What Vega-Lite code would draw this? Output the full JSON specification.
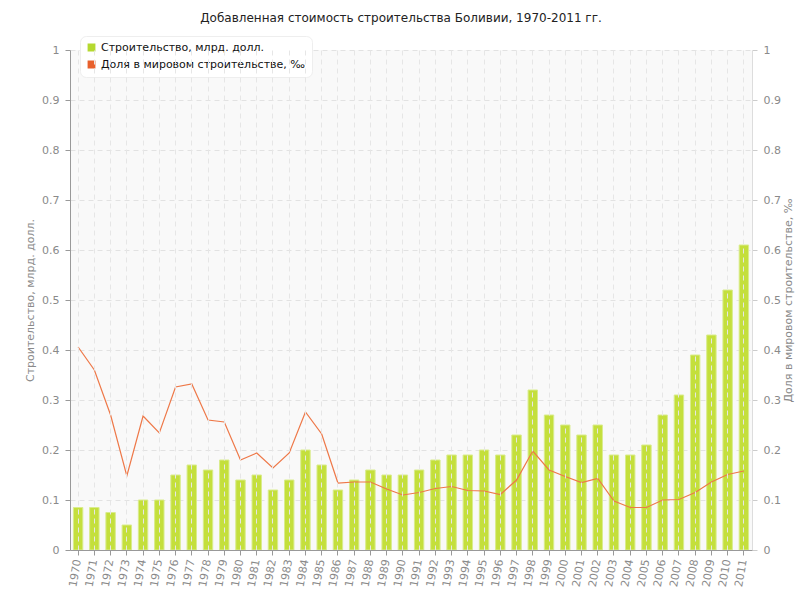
{
  "$schema": "https://vega.github.io/schema/vega-lite/v6.json",
  "width": 682,
  "height": 500,
  "autosize": "none",
  "padding": {"left": 70, "top": 50, "right": 48, "bottom": 50},
  "background": "white",
  "title": {"text": "Добавленная стоимость строительства Боливии, 1970-2011 гг.", "font": "DejaVu Sans", "fontSize": 12, "fontWeight": "normal", "color": "#222", "offset": 11, "dx": -10},
  "config": {
    "view": {"fill": "#f9f9f9", "stroke": null},
    "axis": {"labelFont": "DejaVu Sans", "labelFontSize": 11, "labelColor": "#8a8a8a", "titleFont": "DejaVu Sans", "titleFontSize": 11, "titleFontWeight": "normal", "titleColor": "#8a8a8a", "gridColor": "#e2e2e2", "gridDash": [5, 4], "tickColor": "#999", "domainColor": "#999", "tickSize": 5}
  },
  "data": {"values": [
    {"year": "1970", "construction": 0.085, "share": 0.406},
    {"year": "1971", "construction": 0.085, "share": 0.36},
    {"year": "1972", "construction": 0.075, "share": 0.27},
    {"year": "1973", "construction": 0.05, "share": 0.148},
    {"year": "1974", "construction": 0.1, "share": 0.268},
    {"year": "1975", "construction": 0.1, "share": 0.234},
    {"year": "1976", "construction": 0.15, "share": 0.326},
    {"year": "1977", "construction": 0.17, "share": 0.332},
    {"year": "1978", "construction": 0.16, "share": 0.26},
    {"year": "1979", "construction": 0.18, "share": 0.256},
    {"year": "1980", "construction": 0.14, "share": 0.18},
    {"year": "1981", "construction": 0.15, "share": 0.194},
    {"year": "1982", "construction": 0.12, "share": 0.164},
    {"year": "1983", "construction": 0.14, "share": 0.194},
    {"year": "1984", "construction": 0.2, "share": 0.276},
    {"year": "1985", "construction": 0.17, "share": 0.232},
    {"year": "1986", "construction": 0.12, "share": 0.134},
    {"year": "1987", "construction": 0.14, "share": 0.136},
    {"year": "1988", "construction": 0.16, "share": 0.136},
    {"year": "1989", "construction": 0.15, "share": 0.122},
    {"year": "1990", "construction": 0.15, "share": 0.11},
    {"year": "1991", "construction": 0.16, "share": 0.115},
    {"year": "1992", "construction": 0.18, "share": 0.123},
    {"year": "1993", "construction": 0.19, "share": 0.127},
    {"year": "1994", "construction": 0.19, "share": 0.119},
    {"year": "1995", "construction": 0.2, "share": 0.118},
    {"year": "1996", "construction": 0.19, "share": 0.111},
    {"year": "1997", "construction": 0.23, "share": 0.14},
    {"year": "1998", "construction": 0.32, "share": 0.198},
    {"year": "1999", "construction": 0.27, "share": 0.16},
    {"year": "2000", "construction": 0.25, "share": 0.147},
    {"year": "2001", "construction": 0.23, "share": 0.135},
    {"year": "2002", "construction": 0.25, "share": 0.143},
    {"year": "2003", "construction": 0.19, "share": 0.098},
    {"year": "2004", "construction": 0.19, "share": 0.085},
    {"year": "2005", "construction": 0.21, "share": 0.085},
    {"year": "2006", "construction": 0.27, "share": 0.1},
    {"year": "2007", "construction": 0.31, "share": 0.101},
    {"year": "2008", "construction": 0.39, "share": 0.115},
    {"year": "2009", "construction": 0.43, "share": 0.136},
    {"year": "2010", "construction": 0.52, "share": 0.151},
    {"year": "2011", "construction": 0.61, "share": 0.158}
  ]},
  "encoding": {
    "x": {"field": "year", "type": "ordinal", "scale": {"paddingInner": 0.42, "paddingOuter": 0.21},
      "axis": {"title": null, "labelAngle": -80, "labelAlign": "right", "labelBaseline": "middle", "labelPadding": 4, "grid": true, "tickBand": "center", "zindex": 1, "gridColor": "#e6e6e6"}}
  },
  "layer": [
    {
      "mark": {"type": "bar", "fill": "#c4df3c", "stroke": "#d9ec8c", "strokeWidth": 1},
      "encoding": {
        "y": {"field": "construction", "type": "quantitative", "scale": {"domain": [0, 1]},
          "axis": {"title": "Строительство, млрд. долл.", "values": [0, 0.1, 0.2, 0.3, 0.4, 0.5, 0.6, 0.7, 0.8, 0.9, 1], "format": "~g", "grid": true, "titlePadding": 6, "labelPadding": 6}},
        "color": {"datum": "Строительство, млрд. долл.", "type": "nominal",
          "scale": {"domain": ["Строительство, млрд. долл.", "Доля в мировом строительстве, ‰"], "range": ["#b5d930", "#e8602c"]},
          "legend": {"title": null, "orient": "none", "legendX": 10, "legendY": -14, "fillColor": "white", "cornerRadius": 6, "padding": 6, "strokeColor": "#eeeeee", "symbolType": "square", "symbolSize": 40, "labelFont": "DejaVu Sans", "labelFontSize": 11, "labelColor": "#111", "labelLimit": 0, "rowPadding": 4,
            "encode": {"symbols": {"update": {"fill": {"scale": "color", "field": "value"}, "stroke": {"value": "transparent"}}}}}}
      }
    },
    {
      "mark": {"type": "line", "strokeWidth": 1.2, "stroke": "#ee7848"},
      "encoding": {
        "y": {"field": "share", "type": "quantitative", "scale": {"domain": [0, 1]},
          "axis": {"orient": "right", "title": "Доля в мировом строительстве, ‰", "titleAngle": -90, "titleBaseline": "top", "values": [0, 0.1, 0.2, 0.3, 0.4, 0.5, 0.6, 0.7, 0.8, 0.9, 1], "format": "~g", "grid": false, "domainColor": "#dddddd", "tickColor": "#cccccc", "titlePadding": 2, "labelPadding": 6}},
        "color": {"datum": "Доля в мировом строительстве, ‰", "type": "nominal"}
      }
    }
  ],
  "resolve": {"scale": {"y": "independent"}}
}
